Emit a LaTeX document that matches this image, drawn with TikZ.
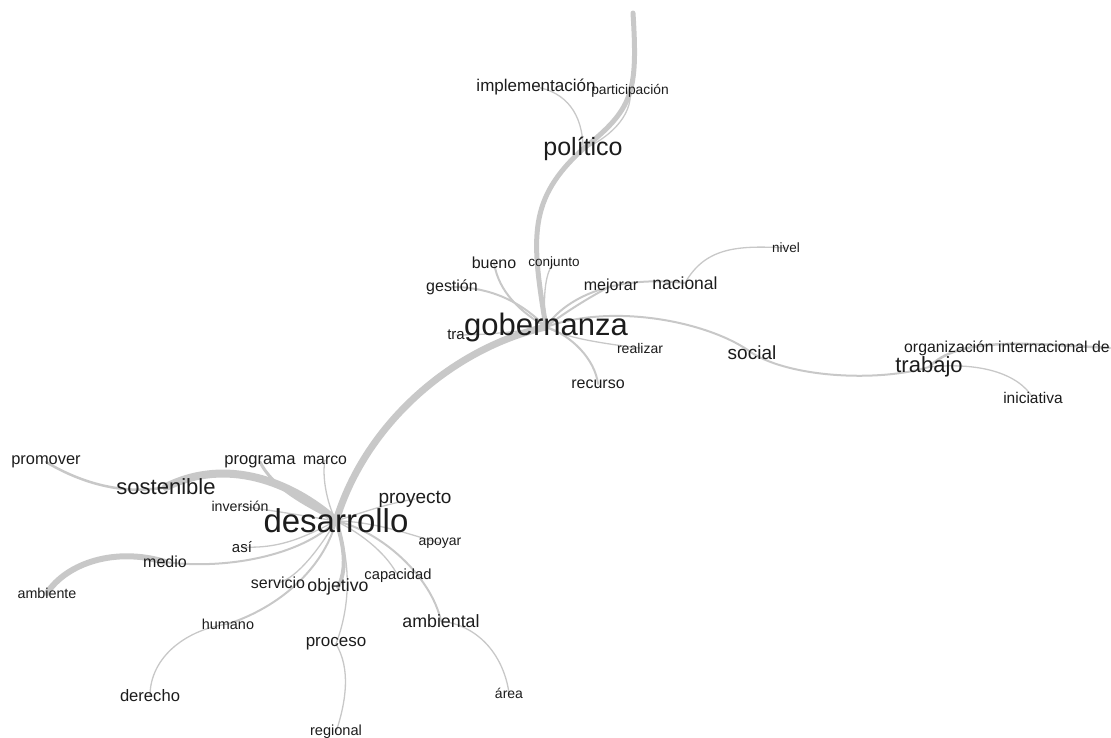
\documentclass[tikz,border=0pt]{standalone}
\usepackage{fontspec}
\setmainfont{Liberation Sans}
\usetikzlibrary{backgrounds}
\definecolor{edgegray}{RGB}{200,200,200}
\definecolor{wordgray}{RGB}{28,28,28}

\begin{document}
\begin{tikzpicture}[x=1pt,y=-1pt,
	word/.style={font=\fontsize{#1pt}{#1pt}\selectfont, text=wordgray, inner sep=0pt},
	link/.style={draw=edgegray, line width=#1pt, line cap=round}]
	\useasboundingbox (0,0) rectangle (1111,738);

	% words round gobernanza
	\node[word=25] (politico) at (583,149) {político};
	\node[word=17] (implementacion) at (536,87) {implementación};
	\node[word=13.8] (participacion) at (630,91) {participación};
	\node[word=15] (tra) at (456,335) {tra};
	\node[word=31] (gobernanza) at (546,327) {gobernanza};
	\node[word=16] (bueno) at (494,263) {bueno};
	\node[word=13.5] (conjunto) at (554,263) {conjunto};
	\node[word=16] (gestion) at (452,287) {gestión};
	\node[word=16] (mejorar) at (611,286) {mejorar};
	\node[word=17.5] (nacional) at (685,283) {nacional};
	\node[word=13.5] (nivel) at (786,248) {nivel};
	\node[word=14] (realizar) at (640,348) {realizar};
	\node[word=16] (recurso) at (598,384) {recurso};
	\node[word=19] (social) at (752,353) {social};
	\node[word=22] (trabajo) at (929,367) {trabajo};
	\node[word=15.8, anchor=west] (organizacion) at (904,348) {organización internacional de};
	\node[word=15.5] (iniciativa) at (1033,398) {iniciativa};
	\coordinate (top) at (633,13);

	% words round desarrollo
	\node[word=33] (desarrollo) at (336,521) {desarrollo};
	\node[word=22] (sostenible) at (166,487) {sostenible};
	\node[word=16.4] (promover) at (46,462) {promover};
	\node[word=16.6] (programa) at (260,462) {programa};
	\node[word=15.8] (marco) at (325,460) {marco};
	\node[word=14.2] (inversion) at (240,506) {inversión};
	\node[word=19] (proyecto) at (415,499) {proyecto};
	\node[word=14] (apoyar) at (440,543) {apoyar};
	\node[word=15] (asi) at (242,547) {así};
	\node[word=16] (medio) at (165,562) {medio};
	\node[word=14.3] (ambiente) at (47,593) {ambiente};
	\node[word=16] (servicio) at (278,583) {servicio};
	\node[word=17.7] (objetivo) at (338,587) {objetivo};
	\node[word=14.7] (capacidad) at (398,576) {capacidad};
	\node[word=17.8] (ambiental) at (441,621) {ambiental};
	\node[word=14.4] (humano) at (228,624) {humano};
	\node[word=17] (proceso) at (336,644) {proceso};
	\node[word=16.6] (derecho) at (150,696) {derecho};
	\node[word=14.6] (regional) at (336,732) {regional};
	\node[word=14] (area) at (509,693) {área};

	\begin{pgfonlayer}{background}
		% main stem
		\draw[link=5] (politico.center) .. controls +(50,-40) and +(5,80) .. (top);
		\draw[link=5] (politico.center) .. controls +(-55,50) and +(-15,-90) .. (gobernanza.center);
		\draw[link=7] (gobernanza.center) .. controls +(-90,20) and +(30,-100) .. (desarrollo.center);
		\draw[link=1.3] (implementacion.center) .. controls +(30,5) and +(0,-35) .. (politico.center);
		\draw[link=1.3] (participacion.center) .. controls +(3,25) and +(25,-10) .. (politico.center);

		% gobernanza
		\draw[link=2] (bueno.center) .. controls +(5,30) and +(-25,-15) .. (gobernanza.center);
		\draw[link=1.3] (conjunto.center) .. controls +(-10,10) and +(-3,-25) .. (gobernanza.center);
		\draw[link=2] (gestion.center) .. controls +(45,0) and +(-20,-20) .. (gobernanza.center);
		\draw[link=2] (mejorar.center) .. controls +(-20,10) and +(15,-12) .. (gobernanza.center);
		\draw[link=2] (nacional.center) .. controls +(-70,-8) and +(20,-30) .. (gobernanza.center);
		\draw[link=1.3] (nacional.center) .. controls +(20,-35) and +(-50,-3) .. (nivel.center);
		\draw[link=2] (gobernanza.center) .. controls +(70,-25) and +(-40,-30) .. (social.center);
		\draw[link=2] (social.center) .. controls +(40,25) and +(-50,15) .. (trabajo.center);
		\draw[link=2.5] (trabajo.center) .. controls +(30,-30) and +(-90,-5) .. (organizacion.east);
		\draw[link=1.3] (trabajo.center) .. controls +(50,-5) and +(-15,-25) .. (iniciativa.center);
		\draw[link=1.3] (gobernanza.center) .. controls +(20,12) and +(-25,-3) .. (realizar.center);
		\draw[link=2] (gobernanza.center) .. controls +(25,8) and +(-3,-25) .. (recurso.center);
		\draw[link=1.3] (tra.center) .. controls +(30,0) and +(-30,5) .. (gobernanza.center);

		% desarrollo
		\draw[link=8] (sostenible.center) .. controls +(60,-30) and +(-45,-40) .. (desarrollo.center);
		\draw[link=2.5] (sostenible.center) .. controls +(-50,10) and +(25,15) .. (promover.center);
		\draw[link=3] (programa.center) .. controls +(15,30) and +(-20,-12) .. (desarrollo.center);
		\draw[link=1.3] (marco.center) .. controls +(-3,15) and +(-10,-20) .. (desarrollo.center);
		\draw[link=1.3] (inversion.center) .. controls +(35,5) and +(-30,-5) .. (desarrollo.center);
		\draw[link=1.3] (proyecto.center) .. controls +(-30,5) and +(25,-8) .. (desarrollo.center);
		\draw[link=1.3] (apoyar.center) .. controls +(-20,-5) and +(40,0) .. (desarrollo.center);
		\draw[link=1.3] (asi.center) .. controls +(40,2) and +(-30,15) .. (desarrollo.center);
		\draw[link=2] (medio.center) .. controls +(60,8) and +(-35,35) .. (desarrollo.center);
		\draw[link=6] (medio.center) .. controls +(-50,-15) and +(20,-30) .. (ambiente.center);
		\draw[link=1.3] (servicio.center) .. controls +(20,-5) and +(-15,25) .. (desarrollo.center);
		\draw[link=2] (humano.center) .. controls +(60,-20) and +(-10,40) .. (desarrollo.center);
		\draw[link=1.3] (humano.center) .. controls +(-40,5) and +(0,-40) .. (derecho.center);
		\draw[link=4] (objetivo.center) .. controls +(8,-15) and +(10,30) .. (desarrollo.center);
		\draw[link=1.3] (proceso.center) .. controls +(15,-40) and +(15,40) .. (desarrollo.center);
		\draw[link=1.3] (proceso.center) .. controls +(15,25) and +(10,-30) .. (regional.center);
		\draw[link=1.3] (capacidad.center) .. controls +(-10,-20) and +(30,15) .. (desarrollo.center);
		\draw[link=2] (ambiental.center) .. controls +(-10,-45) and +(45,10) .. (desarrollo.center);
		\draw[link=1.3] (ambiental.center) .. controls +(40,5) and +(-5,-35) .. (area.center);
	\end{pgfonlayer}
\end{tikzpicture}
\end{document}
